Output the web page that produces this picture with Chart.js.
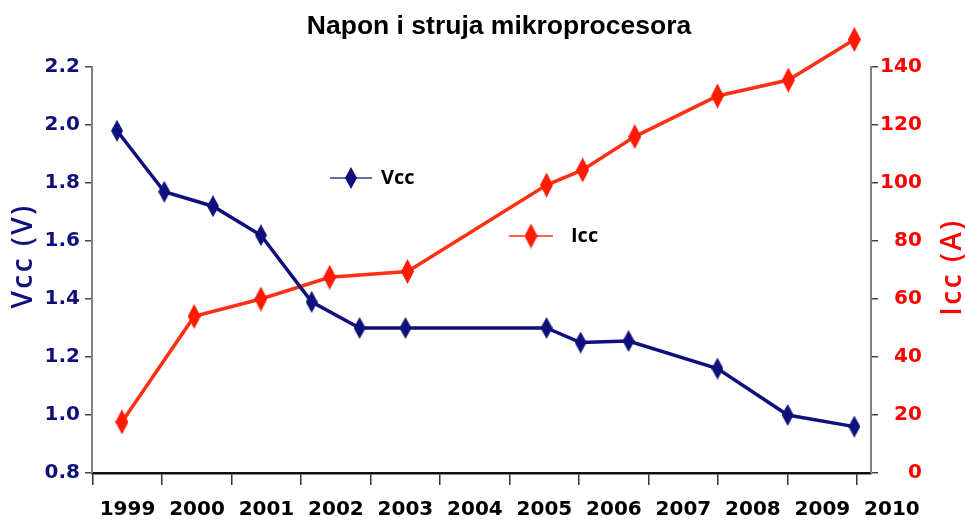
<!DOCTYPE html>
<html>
<head>
<meta charset="utf-8">
<script src="https://cdn.jsdelivr.net/npm/chart.js@4.4.1/dist/chart.umd.min.js"></script>
<style>
html,body{margin:0;padding:0;background:#fff;}
#wrap{width:965px;height:521px;position:relative;}
</style>
</head>
<body>
<div id="wrap"><canvas id="c" width="965" height="521"></canvas></div>
<script>
// ---- data ----
const chartTitle = 'Napon i struja mikroprocesora';
const yearTicks = [1999, 2000, 2001, 2002, 2003, 2004, 2005, 2006, 2007, 2008, 2009, 2010];
const yearLabels = ['1999', '2000', '2001', '2002', '2003', '2004', '2005', '2006', '2007', '2008', '2009', '2010'];
const vccTickLabels = ['0.8', '1.0', '1.2', '1.4', '1.6', '1.8', '2.0', '2.2'];
const iccTickLabels = ['0', '20', '40', '60', '80', '100', '120', '140'];

const vccYears  = [1998.85, 1999.53, 2000.23, 2000.92, 2001.65, 2002.34, 2003.00, 2005.03, 2005.52, 2006.21, 2007.49, 2008.50, 2009.46];
const vccValues = [1.98, 1.77, 1.72, 1.62, 1.39, 1.30, 1.30, 1.30, 1.25, 1.255, 1.16, 1.00, 0.96];

const iccYears  = [1998.92, 1999.96, 2000.92, 2001.91, 2003.03, 2005.03, 2005.55, 2006.30, 2007.49, 2008.51, 2009.46];
const iccValues = [17.6, 54, 60, 67.5, 69.5, 99.3, 104.5, 116, 130, 135.5, 149.5];

const seriesNames = ['Vcc', 'Icc'];
const axisTitles = ['Vcc (V)', 'Icc (A)'];

// ---- styles ----
const NAVY = '#10107c';
const RED_LINE = '#ff3014';
const RED_MARK = '#ff1a00';
const RED_TEXT = '#ff0000';

function makeDiamond(w, h, color) {
  const cv = document.createElement('canvas');
  cv.width = w; cv.height = h;
  const g = cv.getContext('2d');
  g.fillStyle = color;
  g.beginPath();
  g.moveTo(w / 2, 0);
  g.lineTo(w, h / 2);
  g.lineTo(w / 2, h);
  g.lineTo(0, h / 2);
  g.closePath();
  g.fill();
  return cv;
}
const navyDiamond = makeDiamond(12, 22, NAVY);
const redDiamond = makeDiamond(13, 25, RED_MARK);

const vccData = vccYears.map((x, i) => ({ x: x, y: vccValues[i] }));
const iccData = iccYears.map((x, i) => ({ x: x, y: iccValues[i] }));

const titleDraw = {
  id: 'titleDraw',
  afterDraw(chart) {
    const ctx = chart.ctx;
    ctx.save();
    ctx.fillStyle = '#000';
    ctx.font = 'bold 26.5px "Liberation Sans", Arial, sans-serif';
    ctx.textAlign = 'center';
    ctx.textBaseline = 'alphabetic';
    ctx.fillText(chartTitle, 499, 34);
    ctx.restore();
  }
};

const inlineLegend = {
  id: 'inlineLegend',
  afterDatasetsDraw(chart) {
    const ctx = chart.ctx;
    const items = [
      { name: seriesNames[0], color: '#3a3a90', img: navyDiamond, x1: 330, x2: 372, y: 178, tx: 381 },
      { name: seriesNames[1], color: RED_LINE, img: redDiamond, x1: 509, x2: 553, y: 236, tx: 571 }
    ];
    ctx.save();
    items.forEach(it => {
      ctx.strokeStyle = it.color;
      ctx.lineWidth = 1.5;
      ctx.beginPath();
      ctx.moveTo(it.x1, it.y);
      ctx.lineTo(it.x2, it.y);
      ctx.stroke();
      const cx = (it.x1 + it.x2) / 2;
      ctx.drawImage(it.img, cx - it.img.width / 2, it.y - it.img.height / 2);
      ctx.fillStyle = '#000';
      ctx.font = 'bold 20px "Open Sans"';
      ctx.textAlign = 'left';
      ctx.textBaseline = 'middle';
      ctx.fillText(it.name, it.tx, it.y);
    });
    ctx.restore();
  }
};

const sideTitles = {
  id: 'sideTitles',
  afterDraw(chart) {
    const ctx = chart.ctx;
    ctx.save();
    ctx.font = '600 28px "Open Sans"';
    try { ctx.letterSpacing = '2.5px'; } catch (e) {}
    ctx.textAlign = 'center';
    ctx.textBaseline = 'middle';
    ctx.save();
    ctx.translate(24, 256);
    ctx.rotate(-Math.PI / 2);
    ctx.fillStyle = NAVY;
    ctx.fillText(axisTitles[0], 0, 0);
    ctx.restore();
    ctx.save();
    ctx.translate(953, 267);
    ctx.rotate(-Math.PI / 2);
    ctx.fillStyle = RED_TEXT;
    ctx.fillText(axisTitles[1], 0, 0);
    ctx.restore();
    ctx.restore();
  }
};

new Chart(document.getElementById('c'), {
  type: 'line',
  data: {
    datasets: [
      {
        label: seriesNames[0],
        data: vccData,
        yAxisID: 'yV',
        borderColor: NAVY,
        borderWidth: 3.5,
        pointStyle: navyDiamond,
        pointRadius: 30,
        tension: 0,
        clip: false
      },
      {
        label: seriesNames[1],
        data: iccData,
        yAxisID: 'yI',
        borderColor: RED_LINE,
        borderWidth: 3.5,
        pointStyle: redDiamond,
        pointRadius: 40,
        tension: 0,
        clip: false
      }
    ]
  },
  options: {
    responsive: false,
    animation: false,
    events: [],
    layout: { padding: { left: 39.6, right: 43.2, top: 67, bottom: -14 } },
    plugins: {
      legend: { display: false },
      tooltip: { enabled: false },
      title: { display: false }
    },
    scales: {
      x: {
        type: 'linear',
        min: 1998.49,
        max: 2009.70,
        bounds: 'data',
        afterBuildTicks: (axis) => { axis.ticks = yearTicks.map(v => ({ value: v })); },
        ticks: {
          autoSkip: false,
          maxRotation: 0,
          padding: 13,
          color: '#000',
          font: { family: '"DejaVu Sans"', size: 20, weight: 'bold' },
          callback: (v, i) => yearLabels[i]
        },
        grid: {
          offset: true,
          drawOnChartArea: false,
          drawTicks: true,
          tickLength: 12,
          color: '#333',
          lineWidth: 1.5
        },
        border: { display: true, color: '#111', width: 2.5 }
      },
      yV: {
        type: 'linear',
        position: 'left',
        min: 0.8,
        max: 2.2,
        afterBuildTicks: (axis) => { axis.ticks = vccTickLabels.map(s => ({ value: parseFloat(s) })); },
        ticks: {
          padding: 5,
          color: NAVY,
          font: { family: '"DejaVu Sans"', size: 20, weight: 'bold' },
          callback: (v, i) => vccTickLabels[i]
        },
        grid: {
          drawOnChartArea: false,
          drawTicks: true,
          tickLength: 7,
          color: '#444',
          lineWidth: 1.5
        },
        border: { display: true, color: '#808080', width: 2 }
      },
      yI: {
        type: 'linear',
        position: 'right',
        min: 0,
        max: 140,
        afterBuildTicks: (axis) => { axis.ticks = iccTickLabels.map(s => ({ value: parseFloat(s) })); },
        ticks: {
          padding: 1,
          crossAlign: 'far',
          color: RED_TEXT,
          font: { family: '"DejaVu Sans"', size: 20, weight: 'bold' },
          callback: (v, i) => iccTickLabels[i]
        },
        grid: {
          drawOnChartArea: false,
          drawTicks: true,
          tickLength: 7,
          color: '#444',
          lineWidth: 1.5
        },
        border: { display: true, color: '#808080', width: 2 }
      }
    }
  },
  plugins: [titleDraw, inlineLegend, sideTitles]
});
</script>
</body>
</html>
